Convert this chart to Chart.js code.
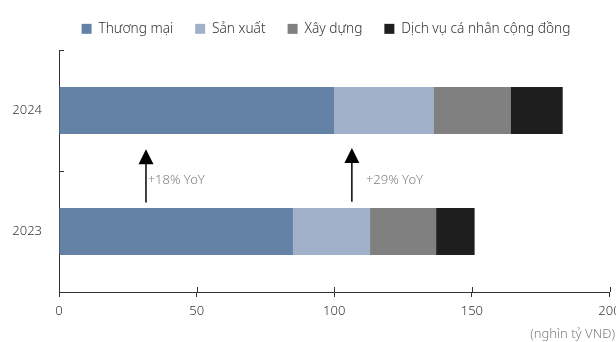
<!DOCTYPE html>
<html>
<head>
<meta charset="utf-8">
<script src="https://cdn.jsdelivr.net/npm/chart.js@4"></script>
<style>
  html, body { margin: 0; padding: 0; background: #fff; }
  #wrap { width: 616px; height: 342px; }
</style>
</head>
<body>
<div id="wrap"><canvas id="c" width="616" height="342"></canvas></div>
<script>
// ---- data ----
const categories = ['2024', '2023'];
const thuongMai = [100, 85];
const sanXuat = [36, 28];
const xayDung = [28, 24];
const dichVu = [19, 14];
const seriesNames = ['Thương mại', 'Sản xuất', 'Xây dựng', 'Dịch vụ cá nhân cộng đồng'];
const xTicks = [0, 50, 100, 150, 200];
const unitLabel = '(nghìn tỷ VNĐ)';
// annotations (data units: x value, category index positions)
const arrowX = [31.6, 106.4];
const arrowFrom = [0.76, 0.755];
const arrowTo = [0.32, 0.31];
const noteText = ['+18% YoY', '+29% YoY'];
const noteX = [32.2, 111.5];
const noteY = [0.58, 0.575];

const colors = ['#6482A5', '#A2B1CA', '#808080', '#1E1E1E'];
const FONT = "'Noto Sans', sans-serif";

const extras = {
  id: 'extras',
  beforeInit(chart) {
    const origFit = chart.legend.fit;
    chart.legend.fit = function () { origFit.call(this); this.height = 50; };
  },
  afterLayout(chart) {
    chart.legend.left = 36;
    chart.legend.right = 616;
  },
  afterDraw(chart) {
    const ctx = chart.ctx;
    const xs = chart.scales.x, ys = chart.scales.y;
    ctx.save();
    // inner half of x tick marks
    ctx.strokeStyle = '#333';
    ctx.lineWidth = 1;
    xTicks.forEach(v => {
      const px = Math.round(xs.getPixelForValue(v)) + 0.5;
      ctx.beginPath();
      ctx.moveTo(px, ys.bottom);
      ctx.lineTo(px, ys.bottom - 5);
      ctx.stroke();
    });
    // y category boundary ticks (inward)
    for (let i = 0; i < categories.length; i++) {
      const py = Math.round(ys.getPixelForValue(i - 0.5)) + 0.5;
      ctx.beginPath();
      ctx.moveTo(xs.left, py);
      ctx.lineTo(xs.left + 5, py);
      ctx.stroke();
    }
    // arrows
    ctx.fillStyle = '#000';
    ctx.strokeStyle = '#000';
    ctx.lineWidth = 1.5;
    arrowX.forEach((v, i) => {
      const px = xs.getPixelForValue(v);
      const y0 = ys.getPixelForValue(arrowFrom[i]);
      const y1 = ys.getPixelForValue(arrowTo[i]);
      ctx.beginPath();
      ctx.moveTo(px, y0);
      ctx.lineTo(px, y1 + 12);
      ctx.stroke();
      ctx.beginPath();
      ctx.moveTo(px, y1);
      ctx.lineTo(px - 7.5, y1 + 15);
      ctx.lineTo(px + 7.5, y1 + 15);
      ctx.closePath();
      ctx.fill();
    });
    // notes
    ctx.fillStyle = '#7f7f7f';
    ctx.font = '300 13px ' + FONT;
    ctx.textAlign = 'left';
    ctx.textBaseline = 'middle';
    noteText.forEach((t, i) => {
      ctx.fillText(t, xs.getPixelForValue(noteX[i]), ys.getPixelForValue(noteY[i]));
    });
    // unit label
    ctx.fillStyle = '#7f7f7f';
    ctx.textAlign = 'right';
    ctx.fillText(unitLabel, chart.width - 1, 334);
    ctx.restore();
  }
};

const datasets = [thuongMai, sanXuat, xayDung, dichVu].map((d, i) => ({
  label: seriesNames[i],
  data: d,
  backgroundColor: colors[i],
  borderWidth: 0,
  categoryPercentage: 1,
  barPercentage: 0.39
}));

new Chart(document.getElementById('c'), {
  type: 'bar',
  data: { labels: categories, datasets },
  plugins: [extras],
  options: {
    indexAxis: 'y',
    responsive: false,
    animation: false,
    layout: { padding: { left: 0, right: 6.5, top: 0, bottom: 0 } },
    plugins: {
      tooltip: { enabled: false },
      legend: {
        position: 'top',
        align: 'center',
        labels: {
          boxWidth: 10, boxHeight: 10, padding: 22,
          color: '#333', font: { family: FONT, size: 13.7, weight: '300' }
        }
      }
    },
    scales: {
      x: {
        stacked: true,
        min: 0, max: 200,
        afterBuildTicks(s) { s.ticks = xTicks.map(v => ({ value: v })); },
        afterFit(s) { s.height = 50; s.paddingLeft = 0; s.paddingRight = 0; },
        grid: { drawOnChartArea: false, drawTicks: true, tickLength: 5, color: '#333' },
        border: { display: true, color: '#333', width: 1 },
        ticks: { color: '#333', font: { family: FONT, size: 13, weight: '300' }, padding: 6, maxRotation: 0 }
      },
      y: {
        stacked: true,
        afterFit(s) { s.width = 59; },
        grid: { display: false },
        border: { display: true, color: '#333', width: 1 },
        ticks: { color: '#333', font: { family: FONT, size: 13, weight: '300' }, padding: 9 }
      }
    }
  }
});
</script>
</body>
</html>
